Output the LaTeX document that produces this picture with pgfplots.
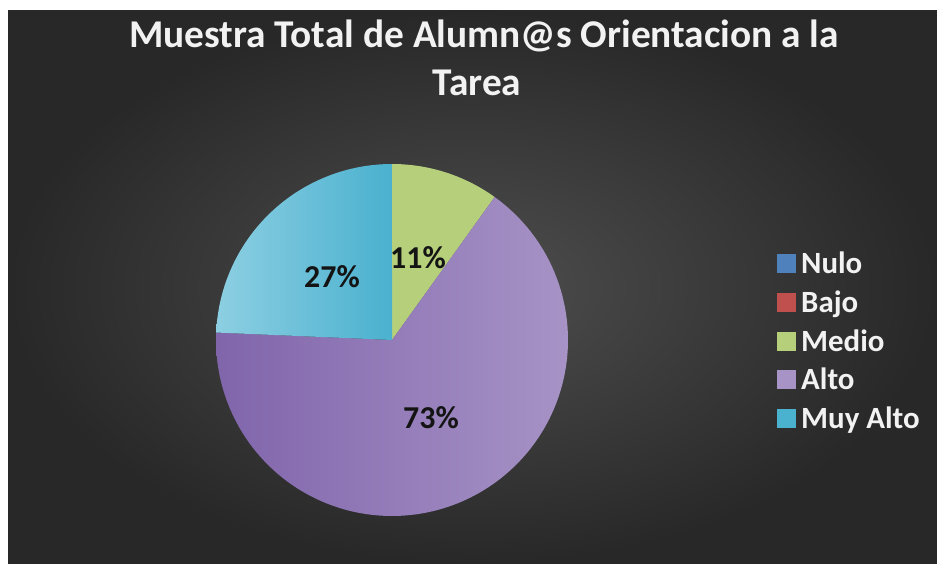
\documentclass[border=0pt]{standalone}
\usepackage{pgfplots}
\pgfplotsset{compat=1.18}
\usepackage{fontspec}
\setmainfont{Carlito}
\definecolor{bgin}{HTML}{4E4E4E}
\definecolor{bgout}{HTML}{282828}
\definecolor{titlecol}{HTML}{F2F2F2}
\definecolor{cNulo}{HTML}{4F81BD}
\definecolor{cBajo}{HTML}{C0504D}
\definecolor{cMedio}{HTML}{B6CF7B}
\definecolor{cAltoL}{HTML}{A793C6}
\definecolor{cAltoD}{HTML}{8065AB}
\definecolor{cMuyL}{HTML}{8DCFE2}
\definecolor{cMuyD}{HTML}{4AB1CF}
% data (percent labels as shown)
\def\vNulo{0}
\def\vBajo{0}
\def\vMedio{11}
\def\vAlto{73}
\def\vMuy{27}
\pgfmathsetmacro\tot{\vNulo+\vBajo+\vMedio+\vAlto+\vMuy}
\pgfmathsetmacro\aA{90}
\pgfmathsetmacro\aB{\aA-\vMedio/\tot*360}
\pgfmathsetmacro\aC{\aB-\vAlto/\tot*360}
\pgfmathsetmacro\aD{\aC-\vMuy/\tot*360}
\def\cx{392}
\def\cy{224}
\def\rr{176}
\tikzset{legtxt/.style={font=\bfseries\fontsize{31}{37}\selectfont, text=titlecol, anchor=base west, inner sep=0}}
\begin{document}
\begin{tikzpicture}
\begin{axis}[scale only axis, width=937bp, height=564bp,
  xmin=0, xmax=937, ymin=0, ymax=564, hide axis, clip=false]
\fill[white] (axis cs:0,0) rectangle (axis cs:937,564);
\shade[inner color=bgin, outer color=bgout] (axis cs:8,0) rectangle (axis cs:937,553);
% slices
\addplot[draw=none, fill=cMedio, domain=\aB:\aA, samples=60, variable=\t]
  ({\cx+\rr*cos(\t)},{\cy+\rr*sin(\t)}) -- (axis cs:\cx,\cy) -- cycle;
\addplot[draw=none, left color=cAltoD, right color=cAltoL, domain=\aC:\aB, samples=150, variable=\t]
  ({\cx+\rr*cos(\t)},{\cy+\rr*sin(\t)}) -- (axis cs:\cx,\cy) -- cycle;
\addplot[draw=none, left color=cMuyL, right color=cMuyD, domain=\aD:\aC, samples=80, variable=\t]
  ({\cx+\rr*cos(\t)},{\cy+\rr*sin(\t)}) -- (axis cs:\cx,\cy) -- cycle;
% data labels
\node[font=\bfseries\fontsize{32}{38}\selectfont, text=black!92, inner sep=0] at (axis cs:418,306) {\vMedio\%};
\node[font=\bfseries\fontsize{32}{38}\selectfont, text=black!92, inner sep=0] at (axis cs:332,287) {\vMuy\%};
\node[font=\bfseries\fontsize{32}{38}\selectfont, text=black!92, inner sep=0] at (axis cs:431,146) {\vAlto\%};
% title
\node[font=\bfseries\fontsize{39.5}{47}\selectfont, text=titlecol, anchor=base, inner sep=0] at (axis cs:484,516) {Muestra Total de Alumn@s Orientacion a la};
\node[font=\bfseries\fontsize{39.5}{47}\selectfont, text=titlecol, anchor=base, inner sep=0] at (axis cs:477,468) {Tarea};
% legend
\fill[cNulo] (axis cs:777,290.5) rectangle (axis cs:796,309.5);
\node[legtxt] at (axis cs:801,290) {Nulo};
\fill[cBajo] (axis cs:777,251.5) rectangle (axis cs:796,270.5);
\node[legtxt] at (axis cs:801,251) {Bajo};
\fill[cMedio] (axis cs:777,212.5) rectangle (axis cs:796,231.5);
\node[legtxt] at (axis cs:801,212) {Medio};
\fill[cAltoL] (axis cs:777,174.5) rectangle (axis cs:796,193.5);
\node[legtxt] at (axis cs:801,174) {Alto};
\fill[cMuyD] (axis cs:777,135.5) rectangle (axis cs:796,154.5);
\node[legtxt] at (axis cs:801,135) {Muy Alto};
\end{axis}
\end{tikzpicture}
\end{document}
